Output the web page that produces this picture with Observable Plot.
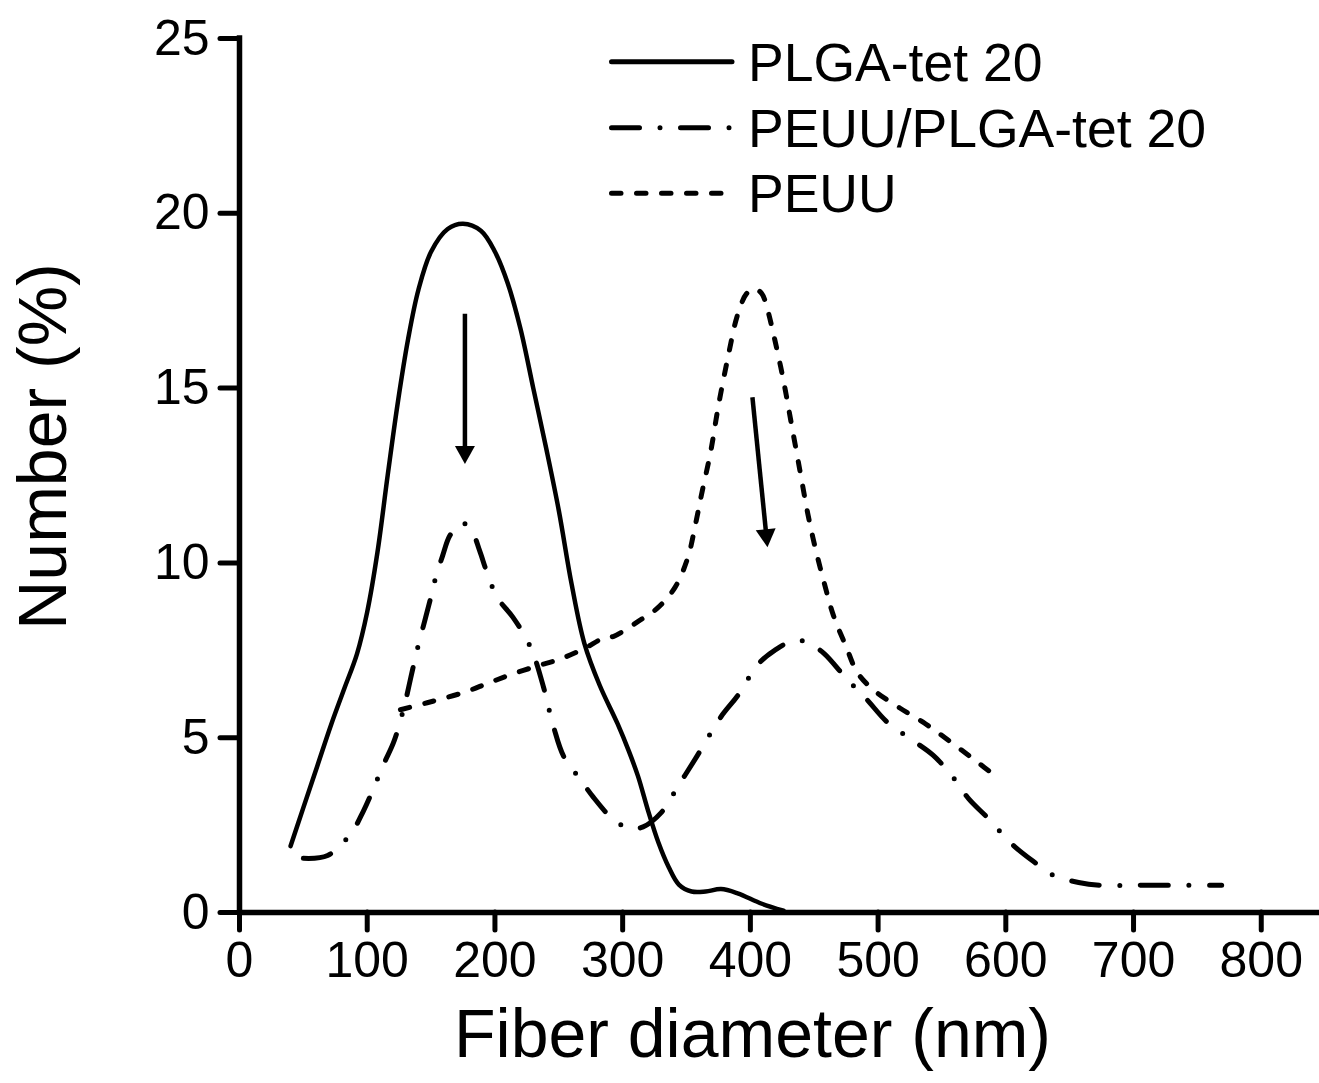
<!DOCTYPE html>
<html><head><meta charset="utf-8">
<script src="https://cdn.jsdelivr.net/npm/d3@7"></script>
<script src="https://cdn.jsdelivr.net/npm/@observablehq/plot@0.6"></script>
<style>
html,body{margin:0;padding:0;background:#fff;}
#wrap{position:relative;width:1319px;height:1083px;overflow:hidden;}
#legend{position:absolute;left:0;top:0;pointer-events:none;}
</style></head><body><div id="wrap"></div>
<script>
const FONT = "'Liberation Sans', Arial, Helvetica, sans-serif";

// ---- data ----
const xTicks = [0, 100, 200, 300, 400, 500, 600, 700, 800];
const yTicks = [0, 5, 10, 15, 20, 25];
const seriesNames = ["PLGA-tet 20", "PEUU/PLGA-tet 20", "PEUU"];
const xTitle = "Fiber diameter (nm)";
const yTitle = "Number (%)";

const plgaX = [40, 50, 61, 72, 82, 92, 100, 108, 116, 124, 132, 140, 150, 163, 175, 189, 200, 210, 220, 230, 240, 250, 260, 270, 282, 296, 305, 312, 320, 328, 336, 344, 354, 365, 377, 390, 409, 426];
const plgaY = [1.9, 3.0, 4.2, 5.4, 6.4, 7.4, 8.6, 10.3, 12.5, 14.6, 16.4, 17.8, 18.9, 19.55, 19.7, 19.5, 18.9, 18.0, 16.7, 15.0, 13.3, 11.5, 9.4, 7.7, 6.5, 5.4, 4.6, 3.9, 2.9, 2.0, 1.3, 0.8, 0.6, 0.6, 0.67, 0.55, 0.25, 0.05];

const blendX = [50, 69, 87, 97, 113, 121, 129, 134, 139, 144, 149, 153, 159, 165, 174, 182, 188, 194, 202, 214, 225, 231, 238, 246, 254, 267, 277, 293, 306, 316, 330, 344, 357, 377, 390, 406, 419, 436, 448, 458, 475, 491, 507, 524, 543, 558, 571, 586, 605, 622, 638, 657, 674, 707, 769];
const blendY = [1.55, 1.63, 2.25, 2.9, 4.25, 4.9, 5.9, 6.7, 7.5, 8.2, 8.9, 9.5, 10.2, 10.8, 11.15, 10.9, 10.35, 9.7, 9.0, 8.45, 7.8, 7.3, 6.45, 5.3, 4.45, 3.8, 3.3, 2.65, 2.4, 2.45, 2.85, 3.65, 4.4, 5.6, 6.2, 7.1, 7.5, 7.8, 7.65, 7.4, 6.7, 6.1, 5.45, 5.0, 4.5, 3.9, 3.25, 2.7, 1.95, 1.45, 1.05, 0.86, 0.78, 0.78, 0.78];

const peuuX = [126, 147, 176, 194, 212, 233, 251, 270, 285, 293, 311, 327, 341, 351, 357, 362, 369, 375, 382, 390, 397, 403, 409, 413, 419, 426, 432, 439, 445, 451, 458, 465, 475, 484, 497, 517, 537, 556, 576, 594];
const peuuY = [5.8, 6.0, 6.3, 6.55, 6.8, 7.05, 7.25, 7.55, 7.85, 7.9, 8.3, 8.7, 9.3, 10.15, 11.1, 12.0, 13.2, 14.5, 15.8, 17.1, 17.7, 17.85, 17.7, 17.3, 16.4, 15.2, 14.0, 12.6, 11.4, 10.4, 9.4, 8.5, 7.6, 6.85, 6.35, 5.85, 5.4, 4.9, 4.35, 3.85];

// arrows: start (x1,y1) and tip (x2,y2)
const arrowX1 = [176.5, 401.6];
const arrowY1 = [17.13, 14.74];
const arrowX2 = [176.5, 413.4];
const arrowY2 = [12.83, 10.45];

// ---- layout ----
const W = 1319, H = 1083, mL = 239, mR = 0, mT = 38, mB = 171;
const xMax = 845.6, yMax = 25;
const sx = (W - mL - mR) / xMax, sy = (H - mT - mB) / yMax;
const headLen = 18;

const toRows = (xs, ys, name) => xs.map((x, i) => ({x, y: ys[i], series: name}));
const plga = toRows(plgaX, plgaY, seriesNames[0]);
const blend = toRows(blendX, blendY, seriesNames[1]);
const peuu = toRows(peuuX, peuuY, seriesNames[2]);

const arrows = arrowX1.map((x1, i) => {
  const x2 = arrowX2[i], y1 = arrowY1[i], y2 = arrowY2[i];
  const dxp = (x2 - x1) * sx, dyp = -(y2 - y1) * sy;
  const len = Math.hypot(dxp, dyp);
  const ux = dxp / len, uy = dyp / len;
  return {
    x1, y1, x2, y2,
    sx2: x2 - ux * (headLen - 2) / sx,
    sy2: y2 + uy * (headLen - 2) / sy,
    rot: Math.atan2(-ux, uy) * 180 / Math.PI
  };
});

const headSymbol = {
  draw(ctx) {
    ctx.moveTo(0, 0);
    ctx.lineTo(-10, -headLen);
    ctx.lineTo(10, -headLen);
    ctx.closePath();
  }
};

const dashDot = "28,20.5,0,20.5";
const dashed = "9.5,15.5";

const chart = Plot.plot({
  width: W, height: H,
  marginLeft: mL, marginRight: mR, marginTop: mT, marginBottom: mB,
  x: {domain: [0, xMax], label: null},
  y: {domain: [0, yMax], label: null},
  style: {fontFamily: FONT, color: "black", background: "white", overflow: "visible"},
  marks: [
    Plot.axisX({ticks: xTicks, tickSize: 18, tickPadding: 11, fontSize: 50, strokeWidth: 5, strokeLinecap: "round", tickFormat: d => String(d), label: null}),
    Plot.axisY({ticks: yTicks, tickSize: 19, tickPadding: 11, fontSize: 50, strokeWidth: 5, strokeLinecap: "round", tickFormat: d => String(d), label: null}),
    Plot.ruleY([0], {strokeWidth: 5.5}),
    Plot.ruleX([0], {y1: 0, y2: yMax, strokeWidth: 5.5, strokeLinecap: "square"}),
    Plot.line(plga, {x: "x", y: "y", curve: "catmull-rom", stroke: "black", strokeWidth: 4.5, strokeLinecap: "round"}),
    Plot.line(blend, {x: "x", y: "y", curve: "catmull-rom", stroke: "black", strokeWidth: 5, strokeDasharray: dashDot, strokeLinecap: "round"}),
    Plot.line(peuu, {x: "x", y: "y", curve: "catmull-rom", stroke: "black", strokeWidth: 5, strokeDasharray: dashed, strokeLinecap: "round"}),
    Plot.link(arrows, {x1: "x1", y1: "y1", x2: "sx2", y2: "sy2", stroke: "black", strokeWidth: 4.5}),
    Plot.dot(arrows, {x: "x2", y: "y2", symbol: headSymbol, fill: "black", stroke: "none", rotate: "rot"}),
    Plot.text([xTitle], {frameAnchor: "bottom", dx: -27, dy: 123, fontSize: 68, lineAnchor: "middle", textAnchor: "middle"}),
    Plot.text([yTitle], {frameAnchor: "left", dx: -195, dy: -29, fontSize: 68, rotate: -90, lineAnchor: "middle", textAnchor: "middle"})
  ]
});

const wrap = document.getElementById("wrap");
wrap.appendChild(chart);

// ---- legend overlay ----
const leg = d3.select(wrap).append("svg").attr("id", "legend")
  .attr("width", W).attr("height", H);
const legRows = [
  {name: seriesNames[0], dash: null, x2: 732, cy: 61.7},
  {name: seriesNames[1], dash: dashDot, x2: 729.5, cy: 127.7},
  {name: seriesNames[2], dash: dashed, x2: 721, cy: 193.3}
];
legRows.forEach(r => {
  leg.append("line").attr("x1", 611.5).attr("x2", r.x2).attr("y1", r.cy).attr("y2", r.cy)
    .attr("stroke", "black").attr("stroke-width", 5).attr("stroke-linecap", "round")
    .attr("stroke-dasharray", r.dash);
  leg.append("text").attr("x", 748).attr("y", r.cy + 19)
    .attr("font-family", FONT).attr("font-size", 53.5).attr("fill", "black").text(r.name);
});
</script>
</body></html>
